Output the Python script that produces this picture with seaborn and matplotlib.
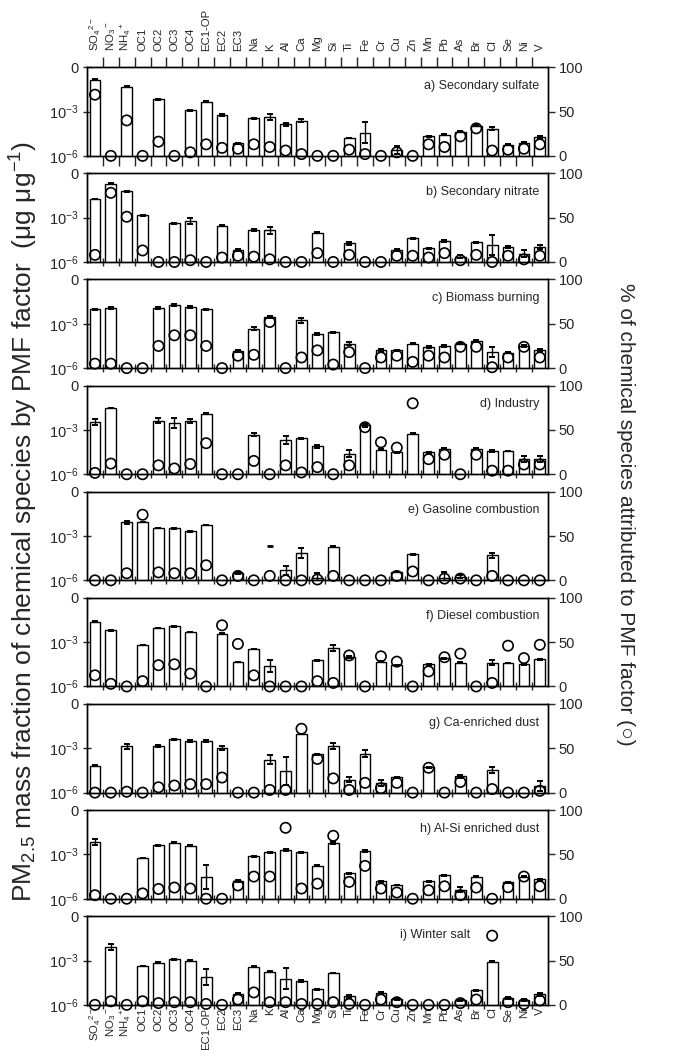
import numpy as np
import pandas as pd
import matplotlib
matplotlib.use("Agg")
import matplotlib.pyplot as plt
import seaborn as sns

sns.set_style("white")
plt.rcParams['font.family'] = ['Liberation Sans', 'DejaVu Sans']
plt.rcParams['mathtext.fontset'] = 'custom'
plt.rcParams['mathtext.rm'] = 'Liberation Sans'
plt.rcParams['mathtext.it'] = 'Liberation Sans:italic'
plt.rcParams['mathtext.default'] = 'regular'

species = ['SO4', 'NO3', 'NH4', 'OC1', 'OC2', 'OC3', 'OC4', 'EC1-OP', 'EC2', 'EC3',
           'Na', 'K', 'Al', 'Ca', 'Mg', 'Si', 'Ti', 'Fe', 'Cr', 'Cu', 'Zn', 'Mn',
           'Pb', 'As', 'Br', 'Cl', 'Se', 'Ni', 'V']
species_labels = ['SO$_4$$^{2-}$', 'NO$_3$$^-$', 'NH$_4$$^+$', 'OC1', 'OC2', 'OC3', 'OC4',
                  'EC1-OP', 'EC2', 'EC3', 'Na', 'K', 'Al', 'Ca', 'Mg', 'Si', 'Ti', 'Fe',
                  'Cr', 'Cu', 'Zn', 'Mn', 'Pb', 'As', 'Br', 'Cl', 'Se', 'Ni', 'V']

titles = ['a) Secondary sulfate', 'b) Secondary nitrate', 'c) Biomass burning',
          'd) Industry', 'e) Gasoline combustion', 'f) Diesel combustion',
          'g) Ca-enriched dust', 'h) Al-Si enriched dust', 'i) Winter salt']

N = None
# log10 of mass fraction (ug/ug); None = not shown
a_log = [-0.85, N, -1.31, N, -2.17, N, -2.93, -2.33, -3.25, -5.15, -3.46, -3.34, -3.85, -3.62, N, N,
         -4.8, -4.43, N, -5.6, N, -4.68, -4.57, -4.38, -3.97, -4.15, -5.26, -5.12, -4.73]
b_log = [-1.75, -0.71, -1.22, -2.85, N, -3.38, -3.24, N, -3.54, -5.2, -3.84, -3.86, N, N, -4.02, N,
         -4.74, N, N, -5.2, -4.39, -5.08, -4.57, -5.63, -4.67, -4.85, -4.97, -5.43, -4.97]
c_log = [-2.03, -1.96, N, N, -1.96, -1.73, -1.89, -2.03, N, -4.85, -3.32, -2.54, N, -2.77, -3.69, -3.58,
         -4.34, N, -4.8, -4.8, -4.34, -4.57, -4.5, -4.34, -4.18, -4.91, -4.96, -4.5, -4.75]
d_log = [-2.49, -1.52, N, N, -2.37, -2.54, -2.4, -1.91, N, N, -3.34, N, -3.69, -3.58, -4.11, N,
         -4.61, -2.67, -4.34, -4.52, -3.25, -4.52, -4.27, N, -4.27, -4.42, -4.42, -4.97, -4.97]
e_log = [N, N, -2.06, -2.06, -2.45, -2.48, -2.68, -2.25, N, -5.5, N, N, -5.31, -4.17, -5.84, -3.71,
         N, N, N, -5.43, -4.24, N, -5.84, -5.77, N, -4.31, N, N, N]
f_log = [-1.63, -2.2, N, -3.19, -2.04, -1.93, -2.32, N, -2.43, -4.33, -3.48, -4.6, N, N, -4.22, -3.41,
         -3.99, N, -4.33, -4.56, N, -4.51, -4.1, -4.38, N, -4.4, -4.4, -4.49, -4.17]
g_log = [-4.17, N, -2.87, N, -2.84, -2.38, -2.5, -2.5, -2.98, N, N, -3.78, -4.51, -2.04, -3.41, -2.87,
         -5.13, -3.37, -5.38, -4.97, N, -4.28, N, -4.9, N, -4.47, N, N, -5.54]
h_log = [-2.18, N, N, -3.25, -2.38, -2.22, -2.41, -4.51, N, -4.79, -3.14, -2.87, -2.73, -2.87, -3.76, -2.22,
         -4.28, -2.8, -4.81, -5.08, N, -4.81, -4.42, -5.38, -4.51, N, -4.9, -4.51, -4.67]
i_log = [N, -2.09, N, -3.37, -3.14, -2.91, -3.0, -4.1, N, -5.24, -3.41, -3.76, -4.22, -4.4, -4.95, -3.83,
         -5.43, N, -5.18, -5.59, N, N, N, -5.7, -5.02, -3.07, -5.54, -5.66, -5.29]

# error half-width in decades
a_err = [0.03, 0, 0.03, 0, 0.03, 0, 0.05, 0.05, 0.07, 0.05, 0.03, 0.2, 0.1, 0.12, 0, 0,
         0, 0.7, 0, 0.3, 0, 0, 0.05, 0.03, 0.03, 0.12, 0.03, 0.03, 0.05]
b_err = [0, 0.03, 0.02, 0.05, 0, 0.03, 0.2, 0, 0, 0.08, 0.07, 0.25, 0, 0, 0.02, 0,
         0.1, 0, 0, 0.05, 0.03, 0.03, 0.07, 0.08, 0.03, 0.7, 0.07, 0.25, 0.15]
c_err = [0.02, 0.07, 0, 0, 0.07, 0.07, 0.07, 0.05, 0, 0.05, 0.08, 0.08, 0, 0.17, 0.08, 0,
         0.1, 0, 0.08, 0.05, 0.05, 0.05, 0.05, 0.05, 0.06, 0.35, 0.04, 0.08, 0.06]
d_err = [0.2, 0, 0, 0, 0.17, 0.35, 0.15, 0.03, 0, 0, 0.1, 0, 0.25, 0, 0.12, 0,
         0.25, 0.1, 0, 0, 0.03, 0.05, 0.05, 0, 0, 0.05, 0, 0.2, 0.2]
e_err = [0, 0, 0.1, 0.02, 0.02, 0.05, 0.05, 0, 0, 0.07, 0, 0, 0.3, 0.35, 0.35, 0.06,
         0, 0, 0, 0, 0, 0, 0.4, 0.1, 0, 0.15, 0, 0, 0]
f_err = [0.04, 0.02, 0, 0, 0.02, 0.03, 0.02, 0, 0.03, 0.02, 0, 0.4, 0, 0, 0.04, 0.2,
         0.05, 0, 0.03, 0.04, 0, 0.02, 0.04, 0, 0, 0.18, 0.02, 0.04, 0.02]
g_err = [0, 0, 0.17, 0, 0.08, 0.03, 0.05, 0.07, 0.15, 0, 0, 0.3, 0.95, 0, 0.04, 0.2,
         0.17, 0.25, 0.2, 0.05, 0, 0.03, 0, 0.08, 0, 0.17, 0, 0, 0.35]
h_err = [0.2, 0, 0, 0, 0.03, 0.03, 0.03, 0.8, 0, 0.05, 0, 0.05, 0.07, 0.03, 0.05, 0.08,
         0.05, 0.07, 0.03, 0, 0, 0.03, 0.03, 0.17, 0, 0, 0.03, 0.03, 0.03]
i_err = [0, 0.2, 0, 0.03, 0.03, 0.03, 0.02, 0.55, 0, 0.05, 0.05, 0.04, 0.7, 0.05, 0.05, 0,
         0.08, 0, 0.08, 0.05, 0, 0, 0, 0.05, 0, 0.05, 0.05, 0.05, 0.1]

# % of species attributed to factor (circles)
a_pct = [69, 0, 40, 0, 16, 0, 4, 13, 9, 8, 13, 10, 6, 2, 0, 0, 7, 2, 0, 4, 0, 13, 10, 22, 31, 6, 7, 8, 13]
b_pct = [8, 78, 51, 13, 0, 0, 2, 0, 5, 7, 6, 3, 0, 0, 10, 0, 8, 0, 0, 7, 7, 5, 10, 2, 8, 0, 7, 3, 7]
c_pct = [5, 5, 0, 0, 25, 37, 37, 25, 0, 14, 15, 52, 0, 12, 20, 4, 18, 0, 12, 14, 7, 14, 12, 24, 24, 1, 12, 24, 12]
d_pct = [1.5, 12, 0, 0, 10, 6.5, 11.5, 35, 0, 0, 15, 0, 10, 2, 8, 0, 10, 53, 36, 30, 80, 17, 22, 0, 22, 4, 4, 11, 11]
e_pct = [0, 0, 8, 74, 9, 8, 8, 17, 0, 5, 0, 5, 0, 0, 1, 5, 0, 0, 0, 5, 10, 0, 2, 2, 0, 5, 0, 0, 0]
f_pct = [12.6, 3, 0, 6, 24, 25, 14.5, 0, 69, 48, 12.6, 0, 0, 0, 6, 4, 35, 0, 34, 28, 0, 17, 33, 37, 0, 4, 46, 32, 47]
g_pct = [0, 0, 1, 0, 6, 8, 9.5, 9.5, 17, 0, 0, 3, 3, 72, 38, 16, 3, 11, 5, 11, 0, 28, 0, 12, 0, 4, 0, 0, 2]
h_pct = [4, 0, 0, 6, 11, 12.6, 11.5, 0, 0, 15, 25, 25, 80, 11.5, 17, 71, 19, 37, 11.5, 7, 0, 9.5, 14, 4, 12.6, 0, 13, 25, 14]
i_pct = [0, 4, 0, 4, 2, 3, 3, 1, 0, 6, 14, 3, 3, 1, 1, 3, 1, 0, 6, 3, 0, 0, 0, 2, 6, 78, 3, 1, 5]

# error-cap only mark (panel e, K)
e_cap_species = ['K']
e_cap_log = [-3.67]

logs = [a_log, b_log, c_log, d_log, e_log, f_log, g_log, h_log, i_log]
errs = [a_err, b_err, c_err, d_err, e_err, f_err, g_err, h_err, i_err]
pcts = [a_pct, b_pct, c_pct, d_pct, e_pct, f_pct, g_pct, h_pct, i_pct]

fig, axes = plt.subplots(9, 1, figsize=(6.96, 10.5), dpi=100, sharex=False)
fig.subplots_adjust(left=0.125, right=0.787, top=0.936, bottom=0.043, hspace=0.197)

LAB = 8.2
TICK = 10.5
xpos = np.arange(len(species))
for k, ax in enumerate(axes):
    vals = np.array([np.nan if v is None else 10.0 ** v for v in logs[k]])
    df = pd.DataFrame({'species': species, 'value': vals})
    sns.barplot(data=df, x='species', y='value', order=species, color='white',
                edgecolor='black', linewidth=1.0, width=0.68, errorbar=None,
                saturation=1, ax=ax)
    ax.set_yscale('log')
    e = np.array(errs[k])
    lv = np.array([np.nan if v is None else v for v in logs[k]])
    mask = ~np.isnan(lv)
    lo = 10 ** lv - 10 ** (lv - np.maximum(e, 0.015))
    hi = 10 ** (lv + np.maximum(e, 0.015)) - 10 ** lv
    ax.errorbar(xpos[mask], vals[mask], yerr=[lo[mask], hi[mask]], fmt='none',
                ecolor='black', elinewidth=1.0, capsize=2.3, capthick=1.4, zorder=3)
    if k == 4:
        cx = [species.index(s) for s in e_cap_species]
        ax.errorbar(cx, [10 ** v for v in e_cap_log], yerr=None, fmt='_', color='black',
                    markersize=5, markeredgewidth=2.0, zorder=3)
    ax.set_ylim(1e-6, 1)
    ax.set_xlim(-0.5, 28.5)
    ax.set_yticks([1e-6, 1e-3, 1])
    ax.set_yticklabels(['$10^{-6}$', '$10^{-3}$', '0'])
    ax.yaxis.set_minor_locator(matplotlib.ticker.NullLocator())
    ax.tick_params(axis='y', which='major', direction='inout', length=6, width=1,
                   labelsize=TICK, left=True, pad=3)
    ax.set_xlabel('')
    ax.set_ylabel('')
    ax.set_xticks(np.arange(0.5, 28.5, 1))
    ax.set_xticklabels([])
    ax.set_xticks(xpos, minor=True)
    ax.tick_params(axis='x', which='major', direction='inout', length=6, width=1,
                   bottom=True, top=False)
    if k == 0:
        ax.xaxis.set_tick_params(which='major', direction='out', top=True, length=7)
    if k == 0:
        ax.set_xticklabels(species_labels, minor=True, rotation=90)
        ax.tick_params(axis='x', which='minor', length=0, labelsize=LAB, pad=12,
                       labeltop=True, labelbottom=False)
    elif k == 8:
        ax.set_xticklabels(species_labels, minor=True, rotation=90)
        ax.tick_params(axis='x', which='minor', length=0, labelsize=LAB, pad=2)
    else:
        ax.set_xticklabels([], minor=True)
        ax.tick_params(axis='x', which='minor', length=0)
    for sp in ax.spines.values():
        sp.set_color('black')
        sp.set_linewidth(1.0)
    title_x = 0.832 if k == 8 else 0.982
    ax.text(title_x, 0.79, titles[k], transform=ax.transAxes, ha='right', va='center',
            fontsize=9)

    ax2 = ax.twinx()
    sns.scatterplot(x=xpos, y=pcts[k], ax=ax2, marker='o', s=55, color='none',
                    edgecolor='black', linewidth=1.2, clip_on=False, legend=False, zorder=4)
    ax2.set_ylim(0, 100)
    ax2.set_yticks([0, 50, 100])
    ax2.tick_params(axis='y', direction='out', length=5, width=1, labelsize=TICK, pad=3)
    ax2.set_ylabel('')
    for sp in ax2.spines.values():
        sp.set_color('black')
        sp.set_linewidth(1.0)

fig.text(0.034, 0.503, 'PM$_{2.5}$ mass fraction of chemical species by PMF factor  (μg μg$^{-1}$)',
         rotation=90, va='center', ha='center', fontsize=19)
fig.text(0.898, 0.51, '% of chemical species attributed to PMF factor (○)',
         rotation=270, va='center', ha='center', fontsize=15)

fig.savefig('out.png', dpi=100)
